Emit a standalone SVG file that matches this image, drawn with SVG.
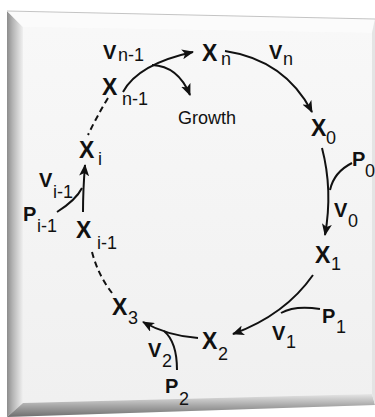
<svg xmlns="http://www.w3.org/2000/svg" width="375" height="417" viewBox="0 0 375 417">
<defs>
<linearGradient id="lb" x1="0" y1="0" x2="1" y2="0">
<stop offset="0" stop-color="#8c8c8c"/><stop offset="0.35" stop-color="#b4b4b4"/><stop offset="1" stop-color="#f0f0f0"/>
</linearGradient>
<linearGradient id="bb" x1="0" y1="0" x2="0" y2="1">
<stop offset="0" stop-color="#e6e6e6"/><stop offset="0.5" stop-color="#a8a8a8"/><stop offset="1" stop-color="#6e6e6e"/>
</linearGradient>
<linearGradient id="face" x1="0" y1="0" x2="0" y2="1">
<stop offset="0" stop-color="#f8f8f8"/><stop offset="1" stop-color="#f0f0f0"/>
</linearGradient>
<marker id="ah" viewBox="0 0 12 10" refX="11" refY="5" markerWidth="12" markerHeight="10" markerUnits="userSpaceOnUse" orient="auto">
<path d="M0,0 L12,5 L0,10 L3,5 z" fill="#111"/>
</marker>
<style>
.m{font-family:"Liberation Sans",Arial,sans-serif;font-weight:bold;font-size:23px;fill:#111}
.v{font-family:"Liberation Sans",Arial,sans-serif;font-weight:bold;font-size:20px;fill:#111}
.s{font-family:"Liberation Sans",Arial,sans-serif;font-size:18px;fill:#111}
.g{font-family:"Liberation Sans",Arial,sans-serif;font-size:18px;fill:#111}
.c{fill:none;stroke:#111;stroke-width:2}
.d{fill:none;stroke:#111;stroke-width:2;stroke-dasharray:6 4}
</style>
</defs>
<rect width="375" height="417" fill="#fff"/>
<g id="plate">
<polygon points="7,11 375,19 375,405 7,417" fill="#f4f4f4"/>
<polygon points="23,27 372,33 372,394 23,403" fill="url(#face)"/>
<polygon points="7,11 23,27 23,403 7,417" fill="url(#lb)"/>
<polygon points="7,11 375,19 372,33 23,27" fill="#fbfbfb"/>
<polygon points="23,403 372,394 375,405 7,417" fill="url(#bb)"/>
<polygon points="372,33 375,19 375,405 372,394" fill="#e4e4e4"/>
<line x1="7" y1="11" x2="375" y2="19" stroke="#c4c4c4" stroke-width="1"/>
</g>
<g id="connectors">
<path class="c" d="M123,92 Q138,64 193,52" marker-end="url(#ah)"/>
<path class="c" d="M152,65 Q178,66 190,95" marker-end="url(#ah)"/>
<path class="c" d="M225,51 Q285,60 312,112" marker-end="url(#ah)"/>
<path class="c" d="M322,148 Q333,190 325,235" marker-end="url(#ah)"/>
<path class="c" d="M352,163 Q334,172 330,190"/>
<path class="c" d="M313,275 Q285,315 233,334" marker-end="url(#ah)"/>
<path class="c" d="M320,309 Q295,305 281,313"/>
<path class="c" d="M198,338 Q168,336 143,322" marker-end="url(#ah)"/>
<path class="c" d="M177,370 Q177,342 164,331"/>
<path class="c" d="M83,212 Q83,190 85,165" marker-end="url(#ah)"/>
<path class="c" d="M57,212 Q76,200 82,188"/>
<path class="d" d="M108,98 Q96,118 88,135"/>
<path class="d" d="M92,252 Q98,275 112,293"/>
</g>
<g id="n-xn1"><text class="m" x="102" y="95">X</text><text class="s" x="122" y="105">n-1</text></g>
<g id="n-vn1"><text class="v" x="103" y="59">V</text><text class="s" x="118" y="61">n-1</text></g>
<g id="n-xn"><text class="m" x="202" y="61">X</text><text class="s" x="221" y="65">n</text></g>
<g id="n-vn"><text class="v" x="269" y="59">V</text><text class="s" x="283" y="65">n</text></g>
<g id="n-growth"><text class="g" x="178" y="124">Growth</text></g>
<g id="n-x0"><text class="m" x="311" y="136">X</text><text class="s" x="326" y="144">0</text></g>
<g id="n-p0"><text class="v" x="352" y="166">P</text><text class="s" x="365" y="177">0</text></g>
<g id="n-v0"><text class="v" x="334" y="217">V</text><text class="s" x="348" y="227">0</text></g>
<g id="n-x1"><text class="m" x="315" y="263">X</text><text class="s" x="331" y="270">1</text></g>
<g id="n-p1"><text class="v" x="322" y="323">P</text><text class="s" x="336" y="333">1</text></g>
<g id="n-v1"><text class="v" x="272" y="340">V</text><text class="s" x="286" y="348">1</text></g>
<g id="n-x2"><text class="m" x="202" y="349">X</text><text class="s" x="218" y="360">2</text></g>
<g id="n-v2"><text class="v" x="148" y="357">V</text><text class="s" x="162" y="367">2</text></g>
<g id="n-p2"><text class="v" x="165" y="393">P</text><text class="s" x="179" y="405">2</text></g>
<g id="n-x3"><text class="m" x="112" y="315">X</text><text class="s" x="128" y="324">3</text></g>
<g id="n-xi1"><text class="m" x="76" y="238">X</text><text class="s" x="97" y="249">i-1</text></g>
<g id="n-pi1"><text class="v" x="23" y="221">P</text><text class="s" x="37" y="232">i-1</text></g>
<g id="n-vi1"><text class="v" x="39" y="187">V</text><text class="s" x="53" y="198">i-1</text></g>
<g id="n-xi"><text class="m" x="79" y="158">X</text><text class="s" x="98" y="165">i</text></g>
</svg>
